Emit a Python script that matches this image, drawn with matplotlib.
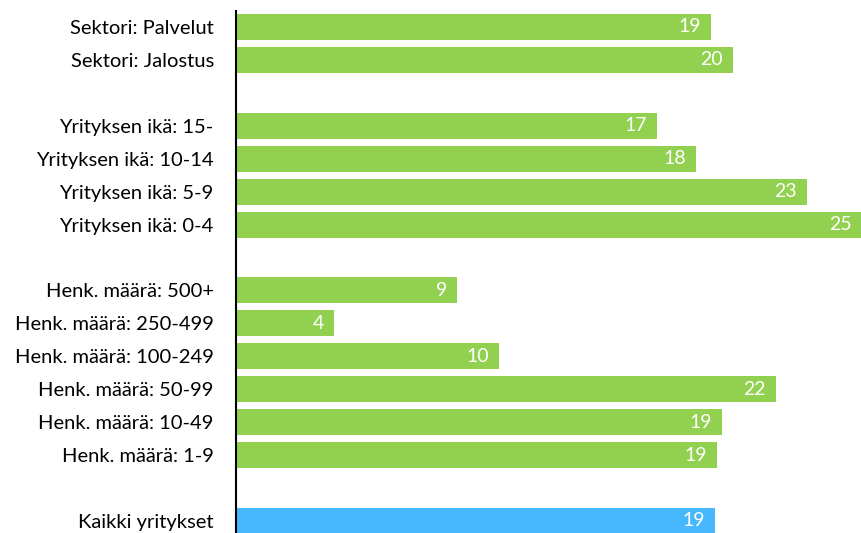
import matplotlib
matplotlib.use("Agg")
from matplotlib import pyplot as plt

# Categories listed top to bottom; None marks an empty spacer row
labels = [
    "Sektori: Palvelut", "Sektori: Jalostus", None,
    "Yrityksen ikä: 15-", "Yrityksen ikä: 10-14", "Yrityksen ikä: 5-9", "Yrityksen ikä: 0-4", None,
    "Henk. määrä: 500+", "Henk. määrä: 250-499", "Henk. määrä: 100-249",
    "Henk. määrä: 50-99", "Henk. määrä: 10-49", "Henk. määrä: 1-9", None,
    "Kaikki yritykset",
]
values = [
    18.92, 19.8, None,
    16.77, 18.33, 22.76, 24.95, None,
    8.8, 3.89, 10.48, 21.51, 19.39, 19.16, None,
    19.11,
]
highlight = ["Kaikki yritykset"]

green = "#92D050"
blue = "#47B8FD"

plt.rcParams['font.family'] = ['Lato', 'DejaVu Sans']

fig = plt.figure(figsize=(8.62, 5.33), dpi=100)
ax = fig.add_axes([236 / 862, 0, 1 - 236 / 862, 1 - 11 / 533])

ypos = []
ylabels = []
for i, (lab, val) in enumerate(zip(labels, values)):
    if lab is None:
        continue
    color = blue if lab in highlight else green
    ax.barh(i, val, height=0.79, color=color)
    ax.text(val - 0.4, i, f"{val:.0f}", ha="right", va="center",
            color="white", fontsize=14)
    ypos.append(i)
    ylabels.append(lab)

ax.set_yticks(ypos)
ax.set_yticklabels(ylabels, fontsize=14.5)
ax.tick_params(axis="y", length=0, pad=16)
ax.set_xticks([])
ax.set_xlim(0, 24.95)
ax.set_ylim(15 + 0.365, -0.485)

for side in ["top", "right", "bottom"]:
    ax.spines[side].set_visible(False)
ax.spines["left"].set_linewidth(1.5)
ax.spines["left"].set_color("black")

fig.savefig("out.png", dpi=100)
